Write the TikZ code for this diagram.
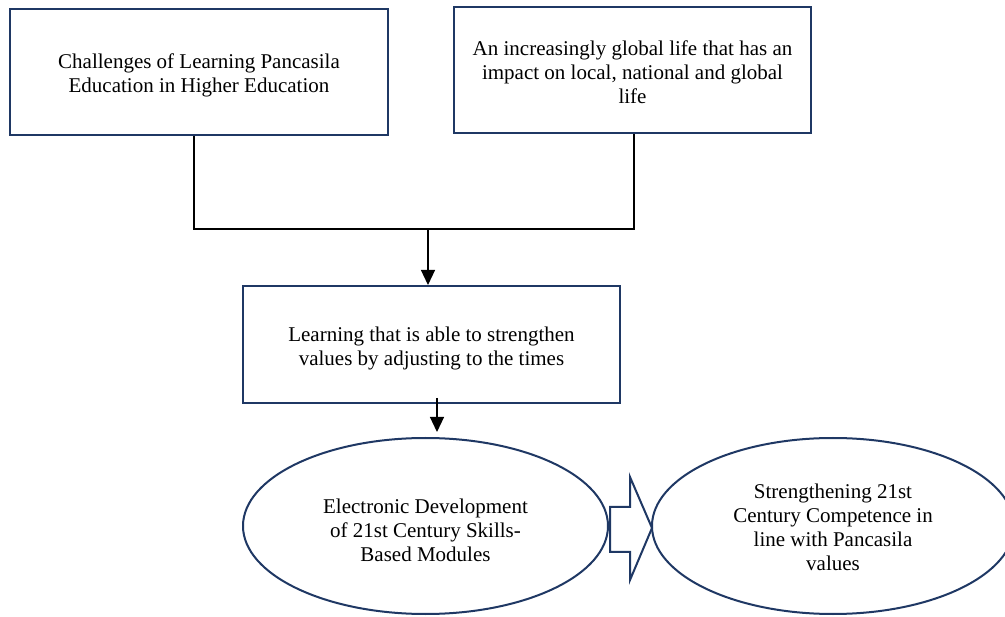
\documentclass[tikz,border=0pt]{standalone}
\usepackage{fontspec}
\setmainfont{Liberation Serif}
\usetikzlibrary{shapes.geometric,arrows.meta}
\definecolor{navy}{HTML}{1F3864}
\begin{document}
\begin{tikzpicture}[x=1pt,y=-1pt,
  every node/.style={font=\fontsize{21}{24}\selectfont, align=center, inner sep=0pt},
  boxnode/.style={draw=navy, line width=2pt, rectangle},
  ovalnode/.style={draw=navy, line width=2pt, ellipse},
  conn/.style={line width=1.2pt, black},
  arr/.style={conn, -{Triangle[length=15pt,width=14pt]}}]
\useasboundingbox (0,0) rectangle (1005,617);
\fill[white] (0,0) rectangle (1005,617);
\node[boxnode, minimum width=378, minimum height=126] (b1) at (199,72) {};
\node (t1) at ([yshift=-3]b1.center)
  {Challenges of Learning Pancasila\\Education in Higher Education};
\node[boxnode, minimum width=357, minimum height=126] (b2) at (632.5,70) {};
\node (t2) at ([yshift=-2]b2.center)
  {An increasingly global life that has an\\impact on local, national and global\\life};
\node[boxnode, minimum width=377, minimum height=117] (b3) at (431.5,344.5) {};
\node (t3) at ([yshift=-4]b3.center)
  {Learning that is able to strengthen\\values by adjusting to the times};
\node[ovalnode, minimum width=365, minimum height=176] (e1) at (425.5,526) {};
\node (t4) at ([yshift=-4]e1.center)
  {Electronic Development\\of 21st Century Skills-\\Based Modules};
\node[ovalnode, minimum width=362, minimum height=176] (e2) at (833,526) {};
\node (t5) at ([yshift=-1]e2.center)
  {Strengthening 21st\\Century Competence in\\line with Pancasila\\values};
\coordinate (j1) at (194,229);
\coordinate (j2) at (634,229);
\draw[conn] (b1.south -| j1) -- (j1) -- (j2) -- (b2.south -| j2);
\coordinate (a1s) at (428,230);
\draw[arr] (a1s) -- (a1s |- b3.north);
\coordinate (a2s) at (437,398);
\draw[arr] (a2s) -- ([yshift=5pt]a2s |- e1.north);
% block arrow between ellipses
\draw[navy, line width=2pt, line join=miter, fill=white]
  (610,507) -- (630,507) -- (630,477) -- (652,528) -- (630,580) -- (630,552) -- (610,552) -- cycle;
\end{tikzpicture}
\end{document}
